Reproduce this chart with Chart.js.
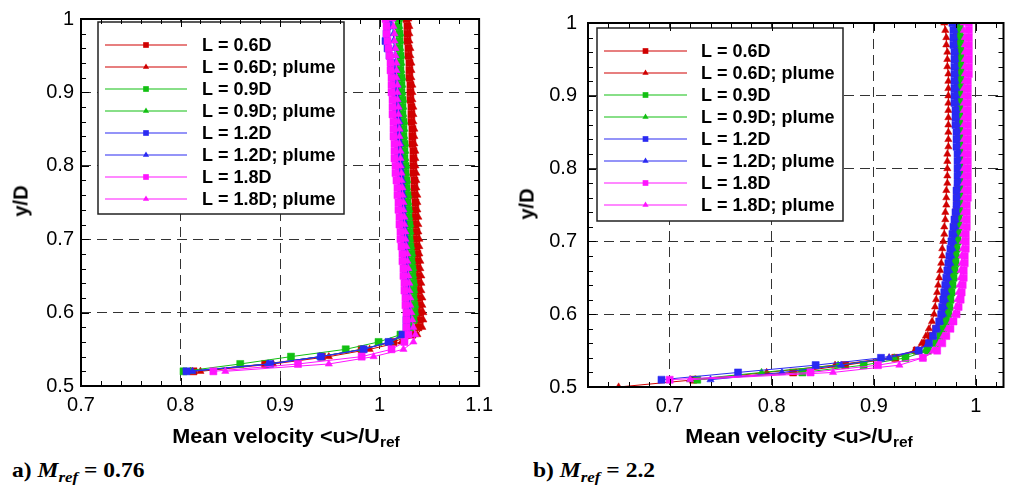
<!DOCTYPE html>
<html>
<head>
<meta charset="utf-8">
<script src="https://cdn.jsdelivr.net/npm/chart.js@4.4.1/dist/chart.umd.min.js"></script>
<style>
body{margin:0;background:#fff;width:1009px;height:492px;position:relative;overflow:hidden;font-family:"Liberation Sans",Arial,sans-serif}
canvas{position:absolute;top:0}
.xt{position:absolute;font-weight:bold;font-size:20px;white-space:nowrap;transform:translateX(-50%) scaleX(1.08)}
.yt{position:absolute;font-weight:bold;font-size:20px;white-space:nowrap;transform:translate(-50%,-50%) rotate(-90deg)}
.cap{position:absolute;font-family:"Liberation Serif","Times New Roman",serif;font-weight:bold;font-size:21px;white-space:nowrap;transform-origin:0 50%;transform:scaleX(1.12)}
sub{font-size:0.72em;vertical-align:-0.3em;line-height:0}
</style>
</head>
<body>
<canvas id="left" width="500" height="430" style="left:0"></canvas>
<canvas id="right" width="504" height="430" style="left:505px"></canvas>
<div class="yt" style="left:21px;top:201px">y/D</div>
<div class="yt" style="left:527px;top:204px">y/D</div>
<div class="xt" style="left:286px;top:425px">Mean velocity &lt;u&gt;/U<sub>ref</sub></div>
<div class="xt" style="left:799px;top:425px">Mean velocity &lt;u&gt;/U<sub>ref</sub></div>
<div class="cap" style="left:12px;top:458px">a) <i>M<sub>ref</sub></i> = 0.76</div>
<div class="cap" style="left:533px;top:458px">b) <i>M<sub>ref</sub></i> = 2.2</div>
<script>
// legend names, same for both panels
const labels = ['L = 0.6D', 'L = 0.6D; plume', 'L = 0.9D', 'L = 0.9D; plume',
                'L = 1.2D', 'L = 1.2D; plume', 'L = 1.8D', 'L = 1.8D; plume'];

// axis ticks
const xTicksLeft = [0.7, 0.8, 0.9, 1.0, 1.1];
const xTicksRight = [0.7, 0.8, 0.9, 1.0];
const yTicks = [0.5, 0.6, 0.7, 0.8, 0.9, 1.0];

// a) M_ref = 0.76 : y/D stations
const yLeft = [0.52,0.53,0.54,0.55,0.56,0.57,0.58,0.59,0.60,0.61,0.62,0.63,0.64,0.65,0.66,0.67,0.68,0.69,0.70,
  0.71,0.72,0.73,0.74,0.75,0.76,0.77,0.78,0.79,0.80,0.81,0.82,0.83,0.84,0.85,0.86,0.87,0.88,0.89,0.90,
  0.91,0.92,0.93,0.94,0.95,0.96,0.97,0.98,0.99,1.00];

const left06 = [0.813,0.885,0.942,0.982,1.014,1.033,1.039,1.040, 1.040,1.040,1.039,1.039,1.039,1.038,1.038,1.038,1.038,1.037,1.037,
  1.037,1.036,1.036,1.036,1.036,1.035,1.035,1.035,1.034,1.034, 1.034,1.034,1.033,1.033,1.033,1.032,1.032,1.032,1.031,1.031,
  1.031,1.030,1.030,1.030,1.029,1.029,1.028,1.028,1.028,1.027];
const left06p = [0.820,0.893,0.949,0.990,1.022,1.038,1.043,1.044, 1.044,1.043,1.043,1.042,1.042,1.042,1.041,1.041,1.040,1.040,1.040,
  1.039,1.039,1.039,1.038,1.038,1.038,1.037,1.037,1.037,1.036, 1.036,1.036,1.035,1.035,1.035,1.034,1.034,1.034,1.033,1.033,
  1.033,1.032,1.032,1.032,1.031,1.031,1.030,1.030,1.030,1.029];
const left09 = [0.803,0.860,0.911,0.966,0.999,1.021,1.031,1.034, 1.035,1.035,1.034,1.034,1.034,1.033,1.033,1.032,1.032,1.031,1.030,
  1.030,1.030,1.029,1.029,1.028,1.028,1.027,1.027,1.026,1.026, 1.025,1.025,1.025,1.024,1.024,1.024,1.023,1.023,1.023,1.022,
  1.022,1.022,1.021,1.021,1.021,1.020,1.020,1.020,1.019,1.019];
const left09p = [0.810,0.888,0.940,0.982,1.011,1.027,1.033,1.035, 1.036,1.036,1.035,1.035,1.035,1.034,1.034,1.033,1.033,1.032,1.031,
  1.031,1.031,1.030,1.030,1.029,1.029,1.028,1.028,1.027,1.027, 1.026,1.026,1.026,1.025,1.025,1.025,1.024,1.024,1.024,1.023,
  1.023,1.023,1.022,1.022,1.022,1.021,1.021,1.021,1.020,1.020];
const left12 = [0.806,0.890,0.941,0.984,1.009,1.023,1.027,1.027, 1.028,1.028,1.027,1.027,1.027,1.026,1.026,1.026,1.025,1.025,1.025,
  1.024,1.024,1.023,1.023,1.022,1.022,1.022,1.021,1.021,1.020, 1.020,1.019,1.019,1.018,1.018,1.018,1.017,1.017,1.016,1.016,
  1.015,1.014,1.013,1.012,1.010,1.008,1.006,1.007,1.008,1.009];
const left12p = [0.812,0.888,0.940,0.984,1.011,1.025,1.029,1.030, 1.030,1.030,1.029,1.029,1.029,1.028,1.028,1.027,1.027,1.026,1.026,
  1.026,1.025,1.025,1.024,1.024,1.024,1.023,1.023,1.022,1.022, 1.021,1.021,1.021,1.020,1.020,1.020,1.019,1.019,1.018,1.018,
  1.018,1.017,1.017,1.016,1.016,1.015,1.014,1.014,1.013,1.012];
const left18 = [0.833,0.918,0.982,1.012,1.025,1.029,1.027,1.027, 1.027,1.026,1.026,1.025,1.025,1.024,1.024,1.023,1.023,1.022,1.021,
  1.021,1.020,1.020,1.019,1.019,1.018,1.018,1.017,1.016,1.016, 1.015,1.015,1.015,1.014,1.014,1.014,1.013,1.013,1.013,1.012,
  1.012,1.012,1.011,1.011,1.010,1.009,1.008,1.007,1.007,1.006];
const left18p = [0.845,0.949,0.994,1.024,1.034,1.036,1.034,1.033, 1.032,1.031,1.031,1.030,1.030,1.029,1.029,1.028,1.028,1.027,1.026,
  1.026,1.025,1.025,1.024,1.024,1.023,1.023,1.022,1.022,1.021, 1.021,1.021,1.020,1.020,1.020,1.019,1.019,1.019,1.018,1.018,
  1.018,1.017,1.017,1.017,1.016,1.016,1.015,1.015,1.014,1.013];

// b) M_ref = 2.2 : y/D stations
const yRight = [0.50,0.51,0.52,0.53,0.54,0.55,0.56,0.57,0.58,0.59,0.60,0.61,0.62,0.63,0.64,0.65,0.66,0.67,0.68,0.69,0.70,
  0.71,0.72,0.73,0.74,0.75,0.76,0.77,0.78,0.79,0.80,0.81,0.82,0.83,0.84,0.85,0.86,0.87,0.88,0.89,0.90,
  0.91,0.92,0.93,0.94,0.95,0.96,0.97,0.98,0.99,1.00];

const right06 = [null, 0.723,0.821,0.872,0.921,0.942,0.951,0.956,0.961,0.965,0.968,
  0.970,0.971,0.972,0.973,0.974,0.975,0.976,0.977,0.978,0.979, 0.980,0.980,0.981,0.981,0.982,0.982,0.983,0.983,0.984,0.984,
  0.984,0.984,0.984,0.984,0.983,0.983,0.983,0.983,0.982,0.982, 0.982,0.982,0.983,0.983,0.983,0.983,0.982,0.982,0.982,0.982];
const right06p = [0.650, 0.725,0.795,0.862,0.915,0.940,0.947,0.951,0.954,0.957,0.959,
  0.960,0.961,0.962,0.963,0.964,0.965,0.966,0.967,0.967,0.968, 0.969,0.969,0.970,0.970,0.971,0.971,0.971,0.972,0.972,0.972,
  0.972,0.972,0.973,0.973,0.973,0.973,0.973,0.973,0.973,0.973, 0.973,0.973,0.973,0.972,0.972,0.972,0.971,0.971,0.970,0.969];
const right09 = [null, 0.727,0.830,0.890,0.931,0.953,0.961,0.965,0.968,0.971,0.973,
  0.974,0.975,0.976,0.977,0.978,0.979,0.980,0.980,0.981,0.982, 0.982,0.983,0.983,0.984,0.984,0.984,0.985,0.985,0.985,0.985,
  0.985,0.985,0.985,0.985,0.985,0.984,0.984,0.984,0.984,0.984, 0.985,0.985,0.985,0.986,0.986,0.986,0.985,0.985,0.984,0.984];
const right09p = [null, 0.720,0.790,0.865,0.920,0.950,0.960,0.965,0.969,0.972,0.974,
  0.975,0.976,0.977,0.978,0.979,0.980,0.981,0.982,0.982,0.983, 0.983,0.984,0.984,0.985,0.985,0.985,0.986,0.986,0.986,0.986,
  0.986,0.986,0.986,0.986,0.986,0.986,0.986,0.986,0.986,0.986, 0.986,0.986,0.986,0.986,0.986,0.986,0.986,0.985,0.985,0.985];
const right12 = [null, 0.692,0.767,0.843,0.907,0.944,0.954,0.958,0.961,0.964,0.966,
  0.967,0.968,0.969,0.970,0.971,0.972,0.973,0.974,0.975,0.976, 0.977,0.978,0.979,0.980,0.981,0.981,0.981,0.982,0.982,0.982,
  0.982,0.982,0.981,0.981,0.981,0.980,0.980,0.980,0.979,0.979, 0.979,0.979,0.979,0.979,0.979,0.979,0.978,0.978,0.978,0.977];
const right12p = [null, 0.740,0.810,0.868,0.915,0.943,0.953,0.958,0.962,0.965,0.968,
  0.969,0.970,0.971,0.972,0.973,0.974,0.975,0.976,0.977,0.978, 0.979,0.980,0.980,0.981,0.981,0.982,0.982,0.982,0.983,0.983,
  0.983,0.983,0.982,0.982,0.982,0.982,0.981,0.981,0.981,0.981, 0.981,0.980,0.980,0.980,0.980,0.980,0.979,0.979,0.979,0.979];
const right18 = [null, 0.700,0.838,0.904,0.948,0.962,0.967,0.971,0.975,0.978,0.981,
  0.983,0.985,0.986,0.987,0.988,0.988,0.989,0.989,0.990,0.990, 0.990,0.991,0.991,0.991,0.991,0.992,0.992,0.992,0.992,0.992,
  0.992,0.992,0.992,0.992,0.992,0.992,0.992,0.992,0.992,0.992, 0.992,0.992,0.993,0.993,0.993,0.993,0.993,0.993,0.993,0.993];
const right18p = [null, 0.720,0.860,0.925,0.948,0.958,0.964,0.968,0.972,0.976,0.979,
  0.981,0.982,0.983,0.984,0.985,0.985,0.986,0.986,0.987,0.987, 0.987,0.987,0.988,0.988,0.988,0.988,0.988,0.988,0.988,0.988,
  0.988,0.988,0.988,0.988,0.988,0.988,0.988,0.988,0.988,0.988, 0.988,0.989,0.989,0.989,0.989,0.989,0.989,0.989,0.988,0.988];

// styles
const colors = ['#d00000','#d00000','#12c012','#12c012','#2a2af2','#2a2af2','#ff14ff','#ff14ff'];
const marks = ['rect','triangle','rect','triangle','rect','triangle','rect','triangle'];
const FONT = '"Liberation Sans", Arial, sans-serif';

function makeSets(yGrid, series) {
  return series.map((xs, k) => ({
    label: labels[k],
    data: xs.map((x, i) => ({x: x, y: yGrid[i]})).filter(p => p.x !== null),
    showLine: true,
    order: series.length - k,   // later curves on top
    borderColor: colors[k],
    backgroundColor: colors[k],
    borderWidth: 1,
    pointStyle: marks[k],
    pointRadius: marks[k] === 'rect' ? 5 : 4.2,
    pointBorderWidth: 0.5,
    pointHoverRadius: 0
  }));
}

// draw a little marker like the ones on the curves
function marker(ctx, style, x, y, r) {
  ctx.beginPath();
  if (style === 'rect') {
    const s = r / Math.SQRT2;
    ctx.rect(x - s, y - s, 2 * s, 2 * s);
  } else {
    ctx.moveTo(x, y - r);
    ctx.lineTo(x + r * 0.866, y + r * 0.5);
    ctx.lineTo(x - r * 0.866, y + r * 0.5);
    ctx.closePath();
  }
  ctx.fill();
}

/* legend box inside the plot */
const boxLegend = {
  id: 'boxLegend',
  afterDatasetsDraw(chart, args, o) {
    const ctx = chart.ctx;
    ctx.save();
    ctx.fillStyle = '#fff';
    ctx.fillRect(o.x, o.y, o.w, o.h);
    ctx.strokeStyle = '#222';
    ctx.lineWidth = 1.5;
    ctx.strokeRect(o.x, o.y, o.w, o.h);
    ctx.font = 'bold 18px ' + FONT;
    ctx.textBaseline = 'middle';
    chart.data.datasets.forEach((ds, i) => {
      const cy = o.row0 + i * 22;
      ctx.strokeStyle = ds.borderColor;
      ctx.lineWidth = 1.2;
      ctx.beginPath();
      ctx.moveTo(o.l0, cy);
      ctx.lineTo(o.l1, cy);
      ctx.stroke();
      ctx.fillStyle = ds.borderColor;
      marker(ctx, ds.pointStyle, (o.l0 + o.l1) / 2, cy, ds.pointStyle === 'rect' ? 4 : 3.6);
      ctx.fillStyle = '#000';
      ctx.fillText(ds.label, o.tx, cy + 1);
    });
    ctx.restore();
  }
};

/* heavy frame with inward ticks on all four sides */
const frame = {
  id: 'frame',
  afterDraw(chart) {
    const {ctx, chartArea: a, scales: {x, y}} = chart;
    ctx.save();
    ctx.strokeStyle = '#000';
    ctx.lineWidth = 1;
    ctx.beginPath();
    for (let k = Math.ceil(x.min * 50 - 1e-6); k <= Math.floor(x.max * 50 + 1e-6); k++) {
      const px = Math.round(x.getPixelForValue(k / 50)) + 0.5;
      const len = k % 5 === 0 ? 8 : 5;
      ctx.moveTo(px, a.bottom); ctx.lineTo(px, a.bottom - len);
      ctx.moveTo(px, a.top); ctx.lineTo(px, a.top + len);
    }
    for (let k = Math.ceil(y.min * 50 - 1e-6); k <= Math.floor(y.max * 50 + 1e-6); k++) {
      const py = Math.round(y.getPixelForValue(k / 50)) + 0.5;
      const len = k % 5 === 0 ? 8 : 5;
      ctx.moveTo(a.left, py); ctx.lineTo(a.left + len, py);
      ctx.moveTo(a.right, py); ctx.lineTo(a.right - len, py);
    }
    ctx.stroke();
    ctx.lineWidth = 2;
    ctx.strokeRect(a.left, a.top, a.right - a.left, a.bottom - a.top);
    ctx.restore();
  }
};

function makeChart(id, sets, xMin, xMax, xTicks, yWidth, xHeight, pad, yPad, leg) {
  return new Chart(document.getElementById(id), {
    type: 'scatter',
    data: {datasets: sets},
    plugins: [boxLegend, frame],
    options: {
      responsive: false,
      animation: false,
      events: [],
      layout: {padding: pad},
      scales: {
        x: {
          type: 'linear', min: xMin, max: xMax,
          afterBuildTicks: s => { s.ticks = xTicks.map(v => ({value: v})); },
          afterFit: s => { s.height = xHeight; },
          grid: {color: '#333', lineWidth: 1, drawTicks: false},
          border: {display: false, dash: [10, 6]},
          ticks: {color: '#000', font: {family: FONT, size: 20}, padding: 7, maxRotation: 0,
                  callback: v => String(v)}
        },
        y: {
          type: 'linear', min: 0.5, max: 1.0,
          afterBuildTicks: s => { s.ticks = yTicks.map(v => ({value: v})); },
          afterFit: s => { s.width = yWidth; },
          grid: {color: '#333', lineWidth: 1, drawTicks: false},
          border: {display: false, dash: [10, 6]},
          ticks: {color: '#000', font: {family: FONT, size: 20}, padding: yPad,
                  callback: v => String(v)}
        }
      },
      plugins: {
        legend: {display: false},
        tooltip: {enabled: false},
        boxLegend: leg
      }
    }
  });
}

makeChart('left',
  makeSets(yLeft, [left06, left06p, left09, left09p, left12, left12p, left18, left18p]),
  0.7, 1.1, xTicksLeft, 81, 44, {top: 13, right: 17, bottom: 0, left: 0}, 7,
  {x: 98, y: 22, w: 246, h: 192, row0: 45, l0: 105, l1: 187, tx: 202});

makeChart('right',
  makeSets(yRight, [right06, right06p, right09, right09p, right12, right12p, right18, right18p]),
  0.62, 1.027, xTicksRight, 83, 43, {top: 15, right: 1, bottom: 0, left: 0}, 11,
  {x: 92, y: 28, w: 246, h: 193, row0: 51, l0: 99, l1: 182, tx: 196});
</script>
</body>
</html>
